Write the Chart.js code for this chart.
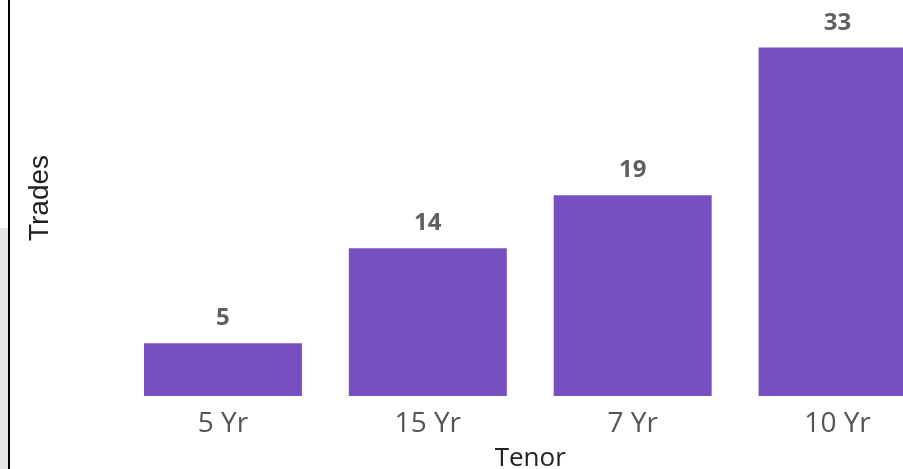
<!DOCTYPE html>
<html>
<head>
<meta charset="utf-8">
<script src="https://cdn.jsdelivr.net/npm/chart.js@4/dist/chart.umd.min.js"></script>
<style>
  html, body { margin: 0; padding: 0; background: #fff; overflow: hidden; }
  #side { position: absolute; left: 0; top: 228px; width: 8px; height: 241px; background: #e6e6e6; }
  #rule { position: absolute; left: 8px; top: 0; width: 2px; height: 469px; background: #000; }
  #wrap { position: absolute; left: 10px; top: 0; width: 930px; height: 469px; }
</style>
</head>
<body>
<div id="side"></div>
<div id="rule"></div>
<div id="wrap"><canvas id="chart"></canvas></div>
<script>
// data
const tenors = ["5 Yr", "15 Yr", "7 Yr", "10 Yr"];
const trades = [5, 14, 19, 33];

// value labels above each bar
const barLabels = {
  id: "barLabels",
  afterDatasetsDraw(chart) {
    const ctx = chart.ctx;
    const meta = chart.getDatasetMeta(0);
    ctx.save();
    ctx.font = "bold 24px 'Open Sans'";
    ctx.fillStyle = "#606060";
    ctx.textAlign = "center";
    ctx.textBaseline = "alphabetic";
    meta.data.forEach((bar, i) => {
      ctx.fillText(String(trades[i]), bar.x, bar.y - 18);
    });
    ctx.restore();
  },
};

const ctx = document.getElementById("chart").getContext("2d");
const myChart = new Chart(ctx, {
  type: "bar",
  data: {
    labels: tenors,
    datasets: [
      {
        label: "Trades",
        data: trades,
        backgroundColor: "#764fc1",
        borderWidth: 0,
        categoryPercentage: 1,
        barPercentage: 0.771,
      },
    ],
  },
  options: {
    responsive: true,
    maintainAspectRatio: false,
    animation: false,
    layout: { padding: 0 },
    plugins: {
      legend: { display: false },
      tooltip: { enabled: false },
    },
    scales: {
      x: {
        grid: { display: false },
        border: { display: false },
        ticks: {
          color: "#555",
          padding: 3,
          font: { family: "'Open Sans'", size: 28 },
        },
        title: {
          display: true,
          text: "Tenor",
          color: "#222",
          padding: 0,
          font: { family: "'Open Sans'", size: 26, lineHeight: "20px" },
        },
        afterFit(scale) {
          scale.height = 73;
        },
      },
      y: {
        min: 0,
        max: 37.5,
        grid: { display: false },
        border: { display: false },
        ticks: { display: false },
        title: {
          display: true,
          text: "Trades",
          color: "#222",
          padding: { top: 15, bottom: 0 },
          font: { family: "'Liberation Sans'", size: 28, lineHeight: "30px" },
        },
        afterFit(scale) {
          scale.width = 110.5;
        },
      },
    },
  },
  plugins: [barLabels],
});
</script>
</body>
</html>
